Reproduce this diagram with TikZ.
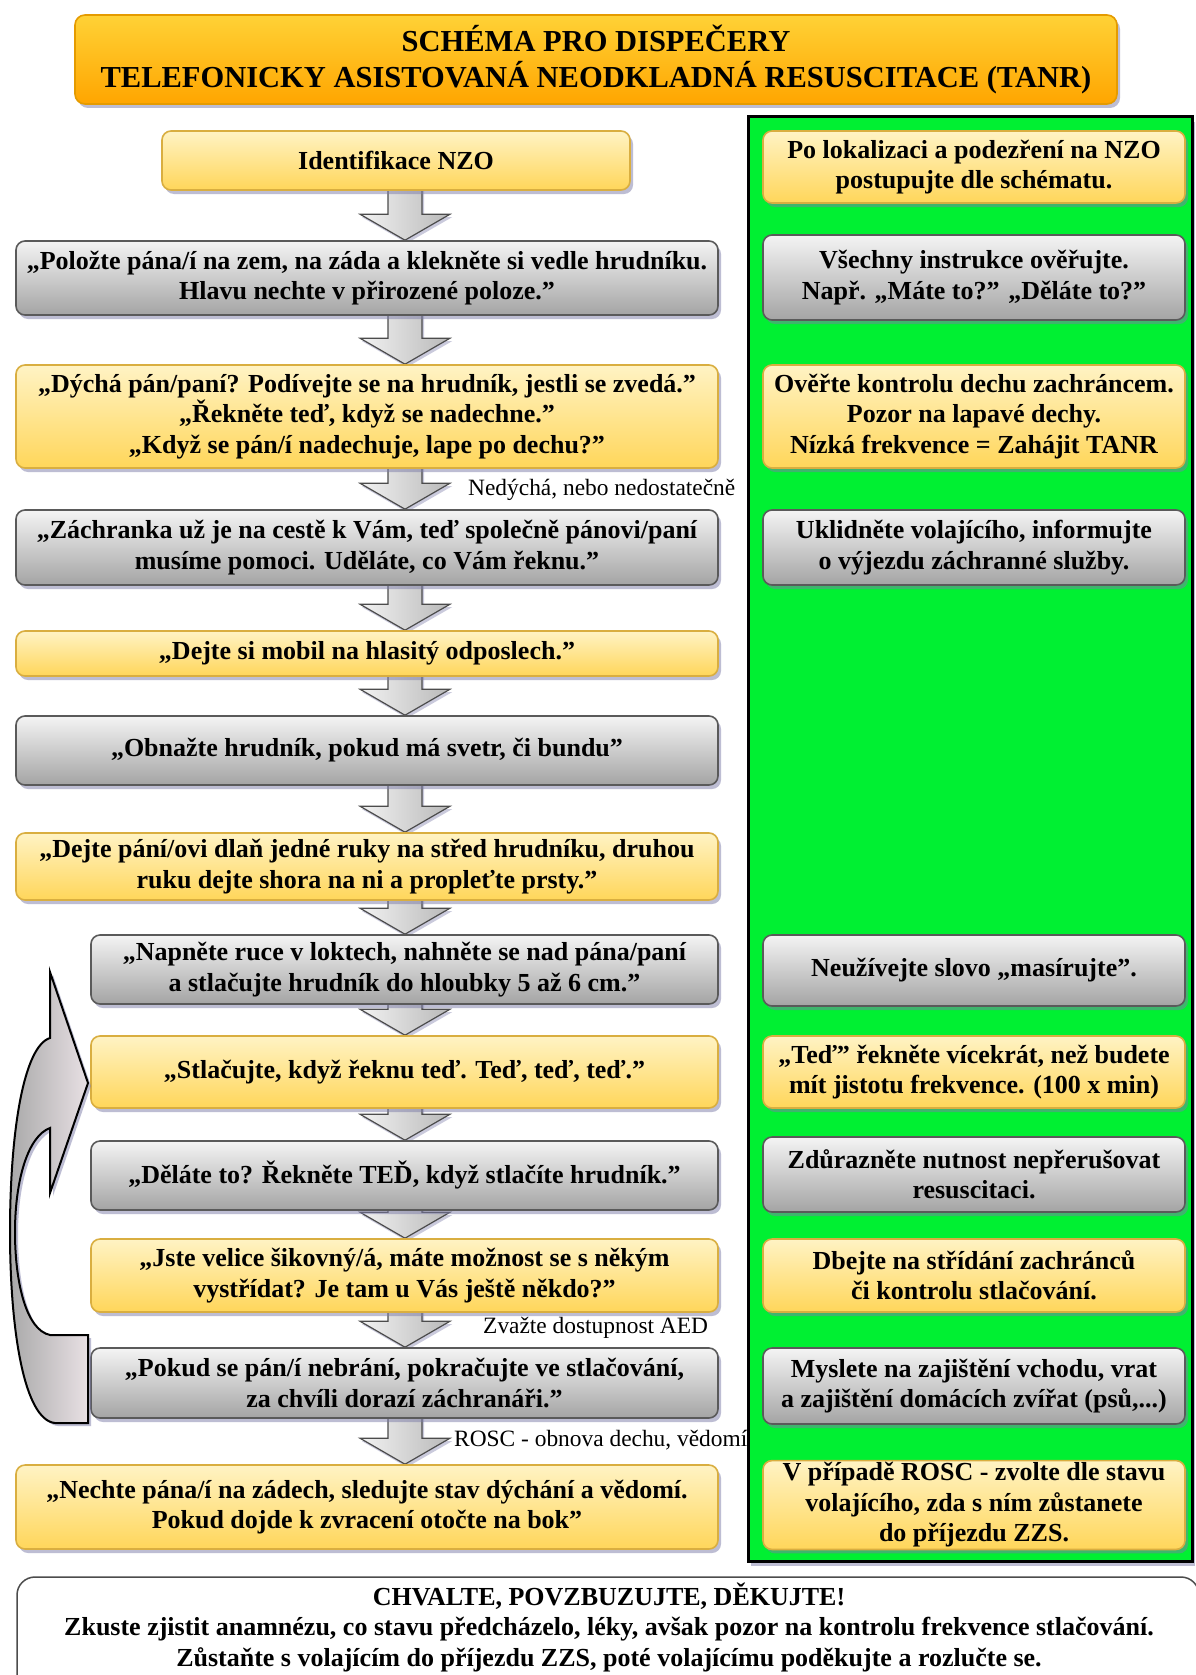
\documentclass[tikz,border=0pt]{standalone}
\usepackage{fontspec}
\setmainfont{Liberation Serif}
\usetikzlibrary{shadows,calc,backgrounds}
\definecolor{ytop}{HTML}{FFF3C4}
\definecolor{ybot}{HTML}{FFD65A}
\definecolor{yedge}{HTML}{D9AE40}
\definecolor{gtop}{HTML}{F4F4F4}
\definecolor{gbot}{HTML}{A4A4A4}
\definecolor{gedge}{HTML}{5A5A5A}
\definecolor{ttop}{HTML}{FFD236}
\definecolor{tbot}{HTML}{FFA500}
\definecolor{tedge}{HTML}{E59B00}
\definecolor{panelc}{HTML}{00F032}
\definecolor{shadowc}{HTML}{7C7CA8}
\definecolor{cleft}{HTML}{A9A9A9}
\definecolor{cright}{HTML}{E8E0E4}
\tikzset{
  base/.style={rounded corners=9pt, line width=1.6pt, align=center, inner xsep=4pt, inner ysep=2pt,
    font=\bfseries\fontsize{26}{30.5}\selectfont,
    drop shadow={shadow xshift=3pt, shadow yshift=-4pt, fill=shadowc, opacity=0.5}},
  ybox/.style={base, draw=yedge, top color=ytop, bottom color=ybot},
  gbox/.style={base, draw=gedge, top color=gtop, bottom color=gbot},
  titlebox/.style={base, rounded corners=10pt, draw=tedge, top color=ttop, bottom color=tbot,
    font=\bfseries\fontsize{30.5}{36}\selectfont},
  panelbox/.style={draw=black, line width=3pt, fill=panelc, inner sep=0pt,
    drop shadow={shadow xshift=3pt, shadow yshift=-5pt, fill=shadowc, opacity=0.5}},
  endframe/.style={draw=black!70, line width=1.5pt, fill=white, rounded corners=18pt},
  endtext/.style={align=center, font=\bfseries\fontsize{26}{30.5}\selectfont, inner sep=0pt},
  blockarrow/.style={draw=gray!60!black, line width=1.2pt, left color=gray!10, right color=gray!55,
    drop shadow={shadow xshift=2pt, shadow yshift=-3pt, fill=shadowc, opacity=0.4}},
  looparrow/.style={draw=black, line width=2pt, left color=cleft, right color=cright,
    drop shadow={shadow xshift=3pt, shadow yshift=-3pt, fill=shadowc, opacity=0.5}},
  lbl/.style={font=\fontsize{23.4}{26}\selectfont, anchor=west, inner sep=0pt}
}
\newcommand\boxat[7]{%
  \pgfmathsetmacro\bxw{#5-#3}\pgfmathsetmacro\bxh{#6-#4}%
  \pgfmathsetmacro\bxcx{(#3+#5)/2}\pgfmathsetmacro\bxcy{(#4+#6)/2}%
  \node[#1, minimum width=\bxw pt, minimum height=\bxh pt] (#2) at (\bxcx,\bxcy) {#7};}
\newcommand\flowarrow[2]{%
  \draw[blockarrow] ($(#1.south -| ax)+(-17,-3)$) -- ($(#2.north -| ax)+(-17,-26)$)
    -- ($(#2.north -| ax)+(-45,-26)$) -- (#2.north -| ax) -- ($(#2.north -| ax)+(45,-26)$)
    -- ($(#2.north -| ax)+(17,-26)$) -- ($(#1.south -| ax)+(17,-3)$) -- cycle;}
\begin{document}
\begin{tikzpicture}[x=1pt,y=-1pt]
\useasboundingbox (0,0) rectangle (1196,1675);
\coordinate (ax) at (405,0);

% title
\boxat{titlebox}{title}{75}{15}{1117}{104}{SCHÉMA PRO DISPEČERY\\TELEFONICKY ASISTOVANÁ NEODKLADNÁ RESUSCITACE (TANR)}

% green panel
\boxat{panelbox}{panel}{748}{117}{1192}{1561}{}

% left column
\boxat{ybox}{b1}{162}{131}{630}{190}{Identifikace NZO}
\boxat{gbox}{b2}{16}{241}{718}{315}{„Položte pána/í na zem, na záda a klekněte si vedle hrudníku.\\Hlavu nechte v přirozené poloze.”}
\boxat{ybox}{b3}{16}{365}{718}{468}{„Dýchá pán/paní? Podívejte se na hrudník, jestli se zvedá.”\\„Řekněte teď, když se nadechne.”\\„Když se pán/í nadechuje, lape po dechu?”}
\boxat{gbox}{b4}{16}{510}{718}{585}{„Záchranka už je na cestě k Vám, teď společně pánovi/paní\\musíme pomoci. Uděláte, co Vám řeknu.”}
\boxat{ybox}{b5}{16}{631}{718}{676}{„Dejte si mobil na hlasitý odposlech.”}
\boxat{gbox}{b6}{16}{716}{718}{785}{„Obnažte hrudník, pokud má svetr, či bundu”}
\boxat{ybox}{b7}{16}{833}{718}{900}{„Dejte pání/ovi dlaň jedné ruky na střed hrudníku, druhou\\ruku dejte shora na ni a propleťte prsty.”}
\boxat{gbox}{b8}{91}{935}{718}{1004}{„Napněte ruce v loktech, nahněte se nad pána/paní\\a stlačujte hrudník do hloubky 5 až 6 cm.”}
\boxat{ybox}{b9}{91}{1036}{718}{1108}{„Stlačujte, když řeknu teď. Teď, teď, teď.”}
\boxat{gbox}{b10}{91}{1141}{718}{1210}{„Děláte to? Řekněte TEĎ, když stlačíte hrudník.”}
\boxat{ybox}{b11}{91}{1239}{718}{1312}{„Jste velice šikovný/á, máte možnost se s někým\\vystřídat? Je tam u Vás ještě někdo?”}
\boxat{gbox}{b12}{91}{1348}{718}{1418}{„Pokud se pán/í nebrání, pokračujte ve stlačování,\\za chvíli dorazí záchranáři.”}
\boxat{ybox}{b13}{16}{1465}{718}{1549}{„Nechte pána/í na zádech, sledujte stav dýchání a vědomí.\\Pokud dojde k zvracení otočte na bok”}

% right column
\boxat{ybox}{r1}{763}{131}{1185}{203}{Po lokalizaci a podezření na NZO\\postupujte dle schématu.}
\boxat{gbox}{r2}{763}{235}{1185}{320}{Všechny instrukce ověřujte.\\Např. „Máte to?” „Děláte to?”}
\boxat{ybox}{r3}{763}{365}{1185}{468}{Ověřte kontrolu dechu zachráncem.\\Pozor na lapavé dechy.\\Nízká frekvence = Zahájit TANR}
\boxat{gbox}{r4}{763}{510}{1185}{585}{Uklidněte volajícího, informujte\\o výjezdu záchranné služby.}
\boxat{gbox}{r5}{763}{935}{1185}{1006}{Neužívejte slovo „masírujte”.}
\boxat{ybox}{r6}{763}{1036}{1185}{1108}{„Teď” řekněte vícekrát, než budete\\mít jistotu frekvence. (100 x min)}
\boxat{gbox}{r7}{763}{1137}{1185}{1212}{Zdůrazněte nutnost nepřerušovat\\resuscitaci.}
\boxat{ybox}{r8}{763}{1239}{1185}{1312}{Dbejte na střídání zachránců\\či kontrolu stlačování.}
\boxat{gbox}{r9}{763}{1348}{1185}{1424}{Myslete na zajištění vchodu, vrat\\a zajištění domácích zvířat (psů,...)}
\boxat{ybox}{r10}{763}{1461}{1185}{1549}{V případě ROSC - zvolte dle stavu\\volajícího, zda s ním zůstanete\\do příjezdu ZZS.}

% bottom box
\draw[endframe] (17,1577) rectangle (1199,1710);
\node[endtext] (final) at (609,1627) {CHVALTE, POVZBUZUJTE, DĚKUJTE!\\Zkuste zjistit anamnézu, co stavu předcházelo, léky, avšak pozor na kontrolu frekvence stlačování.\\Zůstaňte s volajícím do příjezdu ZZS, poté volajícímu poděkujte a rozlučte se.};

% arrow labels
\node[lbl] (l1) at (468,490) {Nedýchá, nebo nedostatečně};
\node[lbl] (l2) at (483,1328) {Zvažte dostupnost AED};
\node[lbl] (l3) at (454,1440) {ROSC - obnova dechu, vědomí};

% loop arrow
\draw[looparrow] (88,1335) -- (50,1335) .. controls (26,1330) and (15,1282) .. (15,1232)
  .. controls (15,1180) and (28,1136) .. (50,1128) -- (50,1193) -- (88,1083) -- (50,972) -- (50,1038)
  .. controls (24,1046) and (10,1130) .. (10,1232) .. controls (10,1330) and (24,1420) .. (55,1423)
  -- (88,1423) -- cycle;

\begin{pgfonlayer}{background}
\fill[white] (0,0) rectangle (1196,1675);
\flowarrow{b1}{b2}
\flowarrow{b2}{b3}
\flowarrow{b3}{b4}
\flowarrow{b4}{b5}
\flowarrow{b5}{b6}
\flowarrow{b6}{b7}
\flowarrow{b7}{b8}
\flowarrow{b8}{b9}
\flowarrow{b9}{b10}
\flowarrow{b10}{b11}
\flowarrow{b11}{b12}
\flowarrow{b12}{b13}
\end{pgfonlayer}
\end{tikzpicture}
\end{document}
